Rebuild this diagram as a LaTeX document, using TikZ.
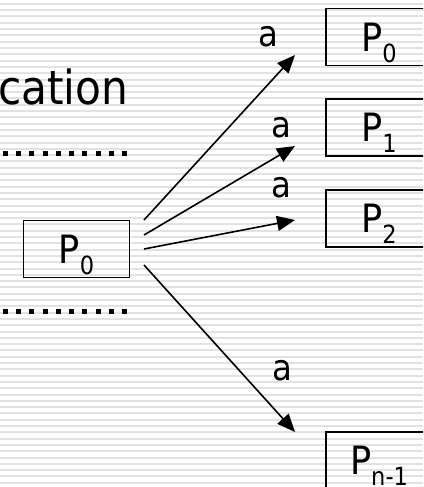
\documentclass[tikz,border=0pt]{standalone}
\usepackage{fontspec}
\setmainfont{DejaVu Sans}[FakeStretch=0.9]
\usetikzlibrary{arrows.meta}
\definecolor{stripe}{HTML}{E2E2E2}
% lowered subscript that does not change the box height
\newcommand{\psub}[1]{\smash{\raisebox{-11pt}{\fontsize{25}{25}\selectfont #1}}}
\begin{document}
\begin{tikzpicture}[x=1pt,y=-1pt,
  procbox/.style={draw, line width=1.8pt, minimum width=106pt, minimum height=57pt,
    inner sep=0pt, font=\fontsize{39}{40}\selectfont},
  msg/.style={-{Triangle[length=18pt,width=15pt]}, line width=1.6pt},
  lbl/.style={font=\fontsize{36}{36}\selectfont, inner sep=0pt},
  sepline/.style={line width=5pt, dash pattern=on 5pt off 8.22pt}]
  \useasboundingbox (0,0) rectangle (423,487);
  \clip (0,0) rectangle (423,487);
  % striped background
  \fill[white] (0,0) rectangle (423,487);
  \foreach \i in {0,...,77}
    \fill[stripe] (0,{3.9+6.3*\i-1}) rectangle (423,{3.9+6.3*\i+1});

  % heading fragment and separators
  \node[anchor=base west, inner sep=0pt, font=\fontsize{47}{47}\selectfont] (title) at (-2,104) {cation};
  \coordinate (d1a) at (3,153);  \coordinate (d1b) at (128,153);
  \coordinate (d2a) at (3,311);  \coordinate (d2b) at (128,311);
  \draw[sepline] (d1a) -- (d1b);
  \draw[sepline] (d2a) -- (d2b);

  % processes
  \node[procbox] (src) at (76.5,249) {P\psub{0}};
  \node[procbox] (r0) at (379,37) {P\psub{0}};
  \node[procbox] (r1) at (379,127.5) {P\psub{1}};
  \node[procbox] (r2) at (379,218.5) {P\psub{2}};
  \node[procbox] (rn) at (379,460.5) {P\psub{n-1}};

  % message arrows
  \coordinate (s1) at (144,220); \coordinate (t1) at (295,55);
  \coordinate (s2) at (144,235); \coordinate (t2) at (295,146);
  \coordinate (s3) at (144,249); \coordinate (t3) at (295,220);
  \coordinate (s4) at (144,265); \coordinate (t4) at (295,432);
  \draw[msg] (s1) -- (t1);
  \draw[msg] (s2) -- (t2);
  \draw[msg] (s3) -- (t3);
  \draw[msg] (s4) -- (t4);

  \node[lbl] (a1) at (268,37) {a};
  \node[lbl] (a2) at (281,128) {a};
  \node[lbl] (a3) at (281,188) {a};
  \node[lbl] (a4) at (282,371) {a};
\end{tikzpicture}
\end{document}
